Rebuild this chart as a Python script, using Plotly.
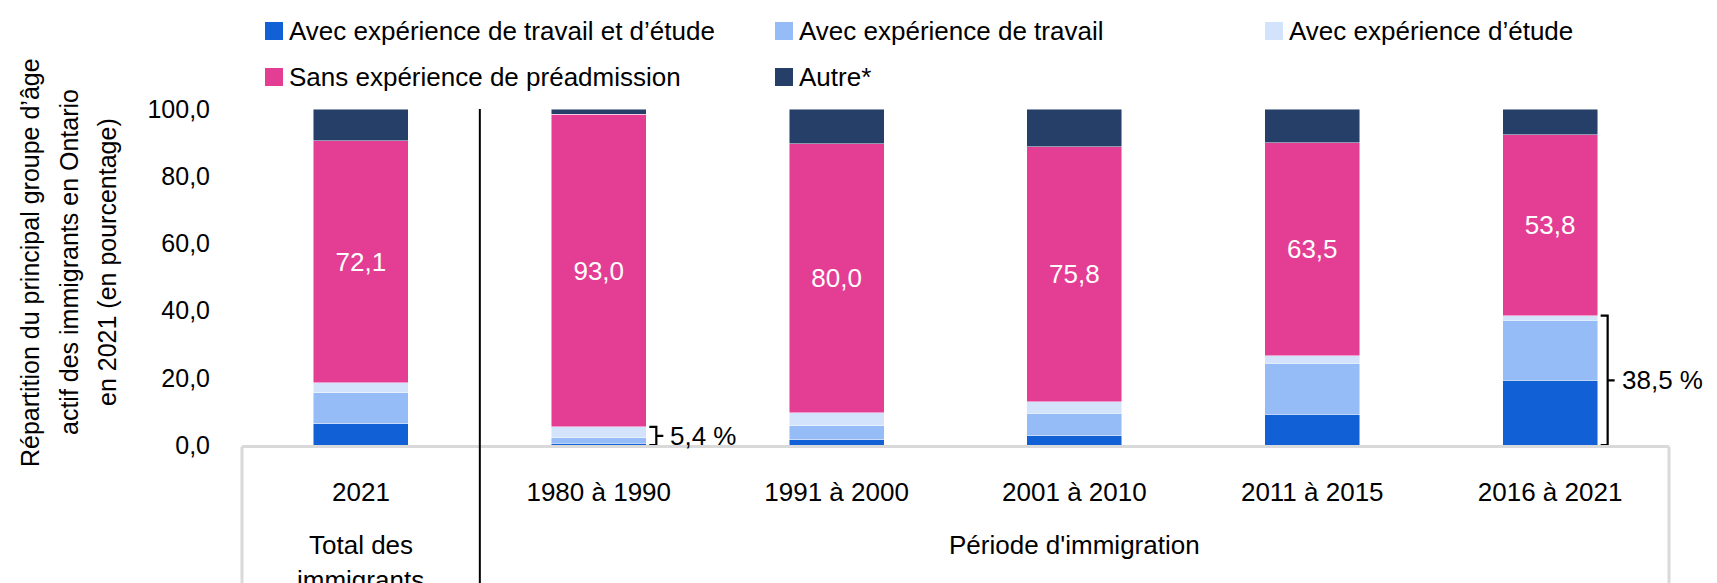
import plotly.graph_objects as go

# ---------------- data ----------------
categories = ["2021", "1980 à 1990", "1991 à 2000", "2001 à 2010", "2011 à 2015", "2016 à 2021"]
series_names = [
    "Avec expérience de travail et d’étude",
    "Avec expérience de travail",
    "Avec expérience d’étude",
    "Sans expérience de préadmission",
    "Autre*",
]
travail_etude = [6.3, 0.5, 1.5, 2.7, 9.2, 19.2]
travail = [9.3, 1.6, 4.3, 6.7, 15.2, 18.0]
etude = [2.9, 3.3, 3.8, 3.5, 2.1, 1.3]
sans_exp = [72.1, 93.0, 80.0, 75.8, 63.5, 53.8]
autre = [9.4, 1.6, 10.4, 11.3, 10.0, 7.7]
bracket_labels = {1: "5,4 %", 5: "38,5 %"}
y_ticks = [0, 20, 40, 60, 80, 100]
y_title_lines = ["Répartition du principal groupe d’âge",
                 "actif des immigrants en Ontario",
                 "en 2021 (en pourcentage)"]
group_total = "Total des|immigrants"
group_period = "Période d'immigration"

colors = ["#1160D6", "#95BCF6", "#D3E3FB", "#E43D94", "#263F68"]
values = [travail_etude, travail, etude, sans_exp, autre]

# ---------------- layout geometry ----------------
W, H = 1717, 583
L, R, T, B = 234, 56, 101, 146
PW, PH = W - L - R, H - T - B
FONT = "Liberation Sans Narrow, Arial Narrow, Liberation Sans, Arial, sans-serif"
REG = "Liberation Sans, Arial, sans-serif"
FS_TICK = 25
FS_CAT = 26
FS_LEG = 26
FS_BAR = 26
FS_TITLE = 25
BARW = 0.40


def px_x(px):
    return (px - L) / PW


def px_y(py):
    return (H - B - py) / PH


def cat_x(i):
    return (i + 0.5) / len(categories)


fig = go.Figure()
for name, vals, col in zip(series_names, values, colors):
    is_main = name == series_names[3]
    fig.add_trace(go.Bar(
        x=categories, y=vals, name=name, width=BARW,
        marker=dict(color=col, line=dict(color="rgba(255,255,255,0.6)", width=0.8)),
        text=[f"{v:.1f}".replace(".", ",") for v in vals] if is_main else None,
        textposition="inside" if is_main else "none",
        insidetextanchor="middle", textangle=0,
        textfont=dict(color="white", size=FS_BAR, family=REG),
        hoverinfo="skip", showlegend=False,
    ))

shapes = []
annotations = []

# gray axis box
shapes.append(dict(type="line", xref="paper", yref="paper", x0=0, x1=1, y0=px_y(438.5), y1=px_y(438.5),
                   line=dict(color="#D9D9D9", width=3)))
for xp in (0, 1):
    shapes.append(dict(type="line", xref="paper", yref="paper", x0=xp, x1=xp, y0=px_y(438.5), y1=px_y(H + 5),
                       line=dict(color="#D9D9D9", width=3)))
# black separator between total and periods
shapes.append(dict(type="line", xref="paper", yref="paper", x0=1 / len(categories), x1=1 / len(categories),
                   y0=1.0, y1=px_y(H + 5), line=dict(color="black", width=2)))

# brackets
for i, lab in bracket_labels.items():
    top = travail_etude[i] + travail[i] + etude[i]
    xr = cat_x(i) + BARW / 2 / len(categories)
    x0 = xr + 3 / PW
    x1 = xr + 10 / PW
    x2 = xr + 17 / PW
    ym = top / 2
    path = (f"M {x0},{top} L {x1},{top} L {x1},{ym} L {x2},{ym} M {x1},{ym} L {x1},0 L {x0},0")
    shapes.append(dict(type="path", xref="paper", yref="y", path=path, line=dict(color="black", width=2.2)))
    annotations.append(dict(xref="paper", yref="y", x=x2 + 5 / PW, y=ym, text=lab, showarrow=False,
                            xanchor="left", yanchor="middle", font=dict(size=FS_CAT, family=FONT, color="black")))

# legend (manual)
leg_pos = [(257, 23), (767, 23), (1257, 23), (257, 69), (767, 69)]
for (lx, ly), name, col in zip(leg_pos, series_names, colors):
    shapes.append(dict(type="rect", xref="paper", yref="paper", x0=px_x(lx), x1=px_x(lx + 18),
                       y0=px_y(ly + 9), y1=px_y(ly - 9), fillcolor=col, line=dict(width=0)))
    annotations.append(dict(xref="paper", yref="paper", x=px_x(lx + 22), y=px_y(ly), text=name, showarrow=False,
                            xanchor="left", yanchor="middle", font=dict(size=FS_LEG, family=FONT, color="black")))

# y-axis title lines
for lx, txt in zip((22, 61, 99), y_title_lines):
    annotations.append(dict(xref="paper", yref="paper", x=px_x(lx), y=px_y(254), text=txt, showarrow=False,
                            textangle=-90, xanchor="center", yanchor="middle",
                            font=dict(size=FS_TITLE, family=REG, color="black")))

# group labels
for k, line in enumerate(group_total.split("|")):
    annotations.append(dict(xref="paper", yref="paper", x=cat_x(0), y=px_y(537 + 35 * k), text=line,
                            showarrow=False, xanchor="center", yanchor="middle",
                            font=dict(size=FS_CAT, family=FONT, color="black")))
annotations.append(dict(xref="paper", yref="paper", x=(cat_x(1) + cat_x(5)) / 2, y=px_y(537), text=group_period,
                        showarrow=False, xanchor="center", yanchor="middle",
                        font=dict(size=FS_CAT, family=FONT, color="black")))

fig.update_layout(
    barmode="stack",
    width=W, height=H,
    margin=dict(l=L, r=R, t=T, b=B, autoexpand=False),
    paper_bgcolor="white", plot_bgcolor="white",
    separators=", ",
    shapes=shapes, annotations=annotations,
    showlegend=False,
    xaxis=dict(type="category", range=[-0.5, 5.5], showgrid=False, showline=False, zeroline=False,
               ticks="outside", ticklen=24, tickcolor="rgba(0,0,0,0)",
               tickfont=dict(size=FS_CAT, family=FONT, color="black")),
    yaxis=dict(range=[0, 100], tickvals=y_ticks, tickformat=".1f", showgrid=False, showline=False,
               zeroline=False, ticks="outside", ticklen=26, tickcolor="rgba(0,0,0,0)",
               tickfont=dict(size=FS_TICK, family=FONT, color="black")),
)

fig.write_html("out.html")
